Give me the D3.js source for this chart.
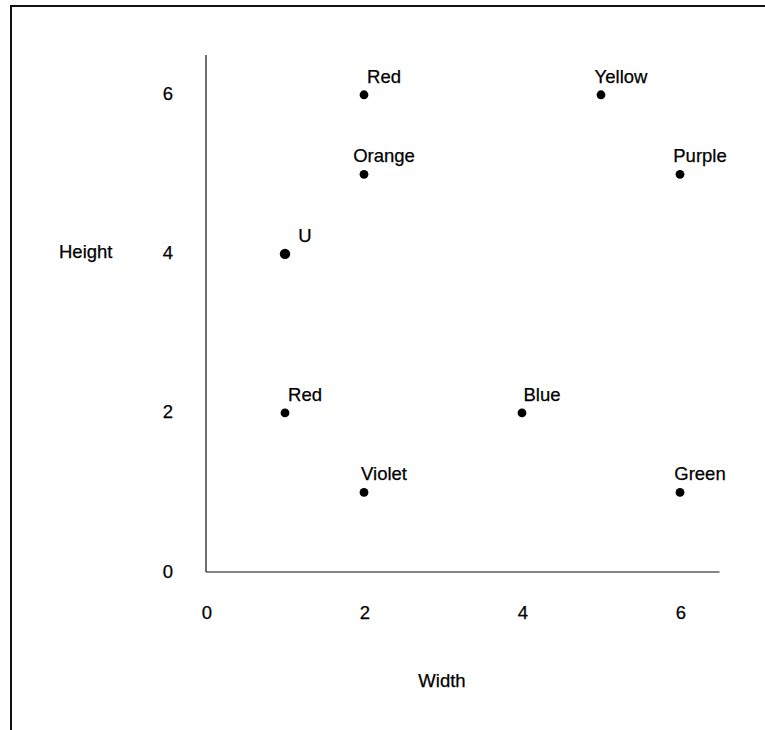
<!DOCTYPE html>
<html>
<head>
<meta charset="utf-8">
<script src="https://cdn.jsdelivr.net/npm/d3@7"></script>
<style>
  html, body { margin: 0; padding: 0; background: #fff; }
  svg text { font-family: "Liberation Sans", Arial, Helvetica, sans-serif; fill: #000; stroke: #000; stroke-width: 0.25px; }
</style>
</head>
<body>
<svg id="chart" width="765" height="730"></svg>
<script>
// Data
const labels  = ["Red", "Yellow", "Orange", "Purple", "U", "Red", "Blue", "Violet", "Green"];
const widths  = [2, 5, 2, 6, 1, 1, 4, 2, 6];
const heights = [6, 6, 5, 5, 4, 2, 2, 1, 1];
const xTicks = [0, 2, 4, 6];
const yTicks = [0, 2, 4, 6];
const xTitle = "Width";
const yTitle = "Height";

const points = labels.map((l, i) => ({ label: l, w: widths[i], h: heights[i] }));

const svg = d3.select("#chart");

// Frame (top and left edges)
svg.append("line").attr("x1", 11).attr("x2", 765).attr("y1", 6).attr("y2", 6)
  .attr("stroke", "#111").attr("stroke-width", 2);
svg.append("line").attr("x1", 11).attr("x2", 11).attr("y1", 5).attr("y2", 730)
  .attr("stroke", "#111").attr("stroke-width", 2);

const x = d3.scaleLinear().domain([0, 6.5]).range([206, 719.5]);
const y = d3.scaleLinear().domain([0, 6.5]).range([572, 55]);

// Axes lines
svg.append("line").attr("x1", x(0)).attr("x2", x(0)).attr("y1", y(6.5)).attr("y2", y(0))
  .attr("stroke", "#111").attr("stroke-width", 1.2);
svg.append("line").attr("x1", x(0)).attr("x2", x(6.5)).attr("y1", y(0)).attr("y2", y(0))
  .attr("stroke", "#111").attr("stroke-width", 1.2);

const fs = 18.5;

// Tick labels
svg.selectAll(".xt").data(xTicks).join("text")
  .attr("x", d => x(d) + 1).attr("y", 612)
  .attr("text-anchor", "middle").attr("dominant-baseline", "central")
  .style("font-size", fs + "px").text(d => d);
svg.selectAll(".yt").data(yTicks).join("text")
  .attr("x", 173).attr("y", d => y(d) - 1)
  .attr("text-anchor", "end").attr("dominant-baseline", "central")
  .style("font-size", fs + "px").text(d => d);

// Axis titles
svg.append("text").attr("x", 442).attr("y", 687).attr("text-anchor", "middle")
  .style("font-size", fs + "px").text(xTitle);
svg.append("text").attr("x", 59).attr("y", 258).attr("text-anchor", "start")
  .style("font-size", fs + "px").text(yTitle);

// Points
svg.selectAll(".pt").data(points).join("circle")
  .attr("cx", d => x(d.w)).attr("cy", d => y(d.h))
  .attr("r", d => d.label === "U" ? 5.2 : 4.4)
  .attr("fill", "#000");

svg.selectAll(".lbl").data(points).join("text")
  .attr("x", d => x(d.w) + 20).attr("y", d => y(d.h) - 12)
  .attr("text-anchor", "middle")
  .style("font-size", fs + "px").text(d => d.label);
</script>
</body>
</html>
